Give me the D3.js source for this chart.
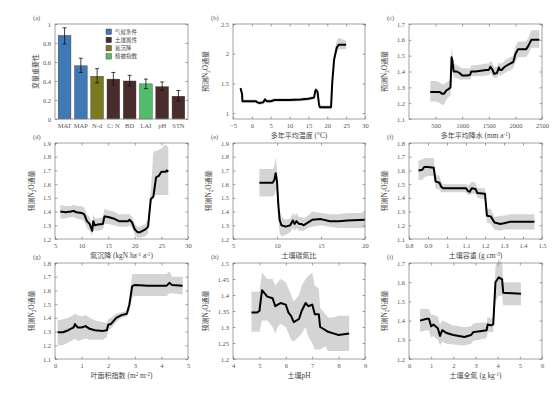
<!DOCTYPE html>
<meta charset=utf-8>
<script src="https://cdn.jsdelivr.net/npm/d3@7"></script>
<style>
body { margin: 0; background: white }
svg text { font-family: "Liberation Serif", serif; fill: #555 }
svg .zh { font-family: "Noto Sans CJK SC", sans-serif; fill: #444 }
svg tspan.lat { font-family: "Liberation Serif", serif }
</style>
<body>
<svg id=fig width=554 height=399></svg>
<script>
// (a) variable importance
const barCats = ["MAT", "MAP", "N-d", "C: N", "BD", "LAI", "pH", "STN"];
const barVals = [0.88, 0.56, 0.45, 0.42, 0.40, 0.37, 0.34, 0.24];
const barLo = [0.79, 0.49, 0.38, 0.36, 0.35, 0.32, 0.30, 0.19];
const barHi = [0.96, 0.64, 0.53, 0.49, 0.46, 0.42, 0.39, 0.30];
const barGroup = ["气候条件", "气候条件", "氮沉降", "土壤属性", "土壤属性", "植被指数", "土壤属性", "土壤属性"];
const groups = ["气候条件", "土壤属性", "氮沉降", "植被指数"];
const groupColors = ["#3f79b6", "#4b2c2d", "#7b791e", "#4fbd6b"];

// (b) mean annual temperature
const bX = [-3, -2.6, -2.5, 0, 1, 1.5, 2, 3, 3.5, 4, 5, 6, 10, 13, 15, 16.5, 16.8, 17, 17.4, 17.8, 18, 19, 20, 21, 21.3, 21.8, 22.5, 23, 25];
const bY = [1.42, 1.32, 1.2, 1.2, 1.2, 1.18, 1.17, 1.18, 1.23, 1.2, 1.2, 1.22, 1.22, 1.23, 1.24, 1.26, 1.37, 1.39, 1.36, 1.15, 1.1, 1.1, 1.1, 1.1, 1.5, 1.9, 2.1, 2.15, 2.15];
const bLo = [1.37, 1.27, 1.17, 1.17, 1.17, 1.15, 1.14, 1.15, 1.2, 1.17, 1.17, 1.19, 1.19, 1.2, 1.21, 1.23, 1.33, 1.35, 1.31, 1.11, 1.07, 1.07, 1.07, 1.07, 1.42, 1.8, 2.02, 2.07, 2.08];
const bHi = [1.46, 1.36, 1.23, 1.23, 1.23, 1.21, 1.2, 1.21, 1.26, 1.23, 1.23, 1.25, 1.25, 1.26, 1.27, 1.29, 1.41, 1.43, 1.4, 1.19, 1.13, 1.13, 1.13, 1.13, 1.58, 2.0, 2.22, 2.27, 2.22];

// (c) mean annual precipitation
const cX = [400, 500, 580, 620, 660, 700, 750, 780, 800, 815, 840, 900, 950, 1000, 1100, 1150, 1170, 1250, 1350, 1450, 1500, 1530, 1570, 1600, 1650, 1690, 1710, 1740, 1800, 1900, 1960, 2000, 2050, 2200, 2240, 2300, 2450];
const cY = [1.27, 1.27, 1.27, 1.26, 1.26, 1.28, 1.29, 1.30, 1.49, 1.47, 1.40, 1.40, 1.39, 1.375, 1.375, 1.38, 1.40, 1.40, 1.405, 1.41, 1.41, 1.43, 1.41, 1.385, 1.39, 1.425, 1.41, 1.41, 1.43, 1.45, 1.46, 1.51, 1.54, 1.54, 1.56, 1.60, 1.60];
const cLo = [1.21, 1.21, 1.2, 1.19, 1.19, 1.22, 1.24, 1.25, 1.42, 1.42, 1.36, 1.36, 1.35, 1.35, 1.35, 1.35, 1.37, 1.37, 1.37, 1.375, 1.375, 1.39, 1.37, 1.36, 1.36, 1.38, 1.37, 1.38, 1.39, 1.41, 1.42, 1.46, 1.49, 1.49, 1.51, 1.55, 1.55];
const cHi = [1.34, 1.34, 1.33, 1.32, 1.32, 1.33, 1.34, 1.35, 1.56, 1.52, 1.45, 1.44, 1.43, 1.42, 1.42, 1.42, 1.44, 1.44, 1.445, 1.45, 1.45, 1.47, 1.45, 1.43, 1.43, 1.46, 1.45, 1.45, 1.47, 1.49, 1.5, 1.56, 1.59, 1.59, 1.61, 1.66, 1.66];

// (d) nitrogen deposition
const dX = [6, 7, 8, 8.5, 9, 10, 10.5, 11, 11.5, 12, 12.2, 12.5, 13, 14, 14.3, 15, 16, 17, 18, 18.7, 19, 19.5, 20, 20.5, 21, 22, 22.5, 23, 23.5, 24, 24.5, 25, 25.8, 26, 26.3];
const dY = [1.40, 1.395, 1.40, 1.405, 1.395, 1.39, 1.38, 1.33, 1.31, 1.26, 1.33, 1.30, 1.305, 1.31, 1.365, 1.36, 1.35, 1.33, 1.33, 1.33, 1.34, 1.32, 1.27, 1.25, 1.25, 1.27, 1.29, 1.49, 1.51, 1.65, 1.66, 1.69, 1.69, 1.70, 1.69];
const dLo = [1.35, 1.35, 1.36, 1.36, 1.35, 1.34, 1.33, 1.28, 1.26, 1.22, 1.28, 1.26, 1.26, 1.27, 1.31, 1.31, 1.3, 1.29, 1.29, 1.29, 1.3, 1.28, 1.23, 1.21, 1.21, 1.22, 1.24, 1.45, 1.52, 1.52, 1.52, 1.52, 1.52, 1.52, 1.52];
const dHi = [1.45, 1.44, 1.44, 1.45, 1.44, 1.44, 1.43, 1.38, 1.36, 1.31, 1.38, 1.35, 1.35, 1.36, 1.42, 1.41, 1.4, 1.38, 1.38, 1.38, 1.38, 1.36, 1.31, 1.29, 1.29, 1.31, 1.34, 1.55, 1.84, 1.84, 1.85, 1.86, 1.89, 1.88, 1.87];

// (e) soil C:N
const eX = [8, 9, 9.5, 9.7, 9.85, 10, 10.15, 10.3, 10.5, 11, 11.5, 11.8, 12, 12.2, 12.5, 12.8, 13, 13.5, 14, 15, 16, 17, 18, 20];
const eY = [1.61, 1.61, 1.61, 1.63, 1.68, 1.62, 1.45, 1.34, 1.30, 1.29, 1.30, 1.335, 1.31, 1.33, 1.31, 1.31, 1.30, 1.32, 1.34, 1.345, 1.33, 1.33, 1.335, 1.34];
const eLo = [1.51, 1.51, 1.51, 1.52, 1.56, 1.52, 1.35, 1.25, 1.22, 1.23, 1.25, 1.28, 1.26, 1.28, 1.26, 1.26, 1.26, 1.28, 1.29, 1.3, 1.29, 1.28, 1.28, 1.28];
const eHi = [1.71, 1.71, 1.71, 1.73, 1.80, 1.72, 1.55, 1.42, 1.36, 1.34, 1.35, 1.39, 1.37, 1.39, 1.36, 1.36, 1.35, 1.37, 1.4, 1.39, 1.38, 1.38, 1.39, 1.39];

// (f) bulk density
const fX = [0.85, 0.87, 0.88, 0.9, 0.93, 0.94, 0.96, 0.97, 0.98, 1.0, 1.05, 1.1, 1.11, 1.12, 1.13, 1.15, 1.16, 1.2, 1.21, 1.23, 1.25, 1.28, 1.3, 1.33, 1.46];
const fY = [1.60, 1.605, 1.625, 1.625, 1.62, 1.52, 1.51, 1.48, 1.47, 1.47, 1.47, 1.47, 1.45, 1.445, 1.47, 1.465, 1.435, 1.43, 1.27, 1.265, 1.22, 1.21, 1.215, 1.225, 1.225];
const fLo = [1.53, 1.53, 1.55, 1.56, 1.56, 1.47, 1.46, 1.44, 1.44, 1.44, 1.44, 1.44, 1.42, 1.42, 1.43, 1.43, 1.4, 1.39, 1.22, 1.21, 1.17, 1.16, 1.17, 1.17, 1.17];
const fHi = [1.67, 1.68, 1.69, 1.69, 1.69, 1.57, 1.56, 1.52, 1.5, 1.5, 1.5, 1.5, 1.49, 1.5, 1.52, 1.51, 1.47, 1.47, 1.32, 1.32, 1.26, 1.27, 1.27, 1.28, 1.28];

// (g) leaf area index
const gX = [0.1, 0.3, 0.5, 0.7, 0.75, 0.85, 1.0, 1.15, 1.3, 1.5, 1.8, 1.95, 2.0, 2.1, 2.3, 2.5, 2.7, 2.8, 2.9, 3.0, 3.5, 4.2, 4.3, 4.4, 4.8];
const gY = [1.295, 1.295, 1.31, 1.33, 1.355, 1.33, 1.33, 1.34, 1.32, 1.31, 1.305, 1.31, 1.35, 1.355, 1.40, 1.42, 1.43, 1.50, 1.63, 1.64, 1.635, 1.635, 1.655, 1.64, 1.635];
const gLo = [1.20, 1.20, 1.22, 1.24, 1.25, 1.23, 1.24, 1.25, 1.24, 1.24, 1.24, 1.26, 1.31, 1.32, 1.37, 1.40, 1.41, 1.45, 1.55, 1.56, 1.56, 1.56, 1.58, 1.58, 1.57];
const gHi = [1.38, 1.39, 1.40, 1.42, 1.43, 1.42, 1.41, 1.42, 1.40, 1.38, 1.37, 1.36, 1.39, 1.4, 1.43, 1.44, 1.45, 1.56, 1.72, 1.72, 1.72, 1.72, 1.74, 1.7, 1.7];

// (h) soil pH
const hX = [4.7, 4.9, 5.0, 5.1, 5.3, 5.5, 5.6, 5.7, 5.8, 6.0, 6.1, 6.2, 6.3, 6.5, 6.6, 6.75, 6.85, 7.0, 7.1, 7.25, 7.3, 7.5, 7.6, 7.8, 8.0, 8.4];
const hY = [1.345, 1.345, 1.35, 1.415, 1.395, 1.39, 1.365, 1.37, 1.375, 1.37, 1.345, 1.335, 1.315, 1.325, 1.35, 1.375, 1.365, 1.37, 1.34, 1.34, 1.30, 1.29, 1.285, 1.28, 1.275, 1.28];
const hLo = [1.285, 1.285, 1.285, 1.32, 1.32, 1.3, 1.28, 1.3, 1.31, 1.3, 1.28, 1.26, 1.255, 1.27, 1.28, 1.3, 1.27, 1.25, 1.23, 1.23, 1.23, 1.24, 1.225, 1.225, 1.225, 1.225];
const hHi = [1.41, 1.41, 1.41, 1.47, 1.45, 1.45, 1.43, 1.44, 1.45, 1.44, 1.42, 1.40, 1.38, 1.40, 1.43, 1.45, 1.46, 1.47, 1.43, 1.42, 1.36, 1.34, 1.33, 1.33, 1.335, 1.335];

// (i) soil total nitrogen
const iX = [0.5, 0.8, 0.9, 1.0, 1.1, 1.3, 1.4, 1.5, 1.7, 2.0, 2.5, 2.8, 2.9, 3.2, 3.5, 3.55, 3.7, 3.8, 3.9, 4.05, 4.2, 4.25, 5.05];
const iY = [1.40, 1.41, 1.41, 1.37, 1.38, 1.36, 1.32, 1.35, 1.335, 1.325, 1.315, 1.325, 1.34, 1.345, 1.35, 1.38, 1.375, 1.38, 1.60, 1.625, 1.615, 1.545, 1.54];
const iLo = [1.34, 1.35, 1.35, 1.31, 1.32, 1.3, 1.27, 1.29, 1.28, 1.275, 1.27, 1.28, 1.295, 1.3, 1.31, 1.34, 1.34, 1.34, 1.5, 1.53, 1.53, 1.48, 1.48];
const iHi = [1.46, 1.46, 1.46, 1.43, 1.43, 1.42, 1.38, 1.4, 1.39, 1.375, 1.365, 1.37, 1.385, 1.39, 1.39, 1.42, 1.41, 1.42, 1.68, 1.72, 1.7, 1.6, 1.6];

// layout
const colL = [55, 233, 409], colR = [188, 365, 542];
const rowT = [24, 143, 263], rowB = [119, 239, 359];

const svg = d3.select("#fig");
const fs = 6.5;

// text with ^{..} and _{..} parts, latin runs in serif
function rich(t, str) {
	const parts = str.split(/([\^_]\{[^}]*\})/);
	for (const p of parts) {
		if (!p) continue;
		if (p[0] === "^" || p[0] === "_") {
			t.append("tspan").attr("class", "lat").attr("baseline-shift", p[0] === "^" ? 2.2 : -1.5)
				.attr("font-size", "0.72em").text(p.slice(2, -1));
		} else {
			for (const q of p.split(/([\u4e00-\u9fff]+)/)) {
				if (!q) continue;
				const s = t.append("tspan").text(q);
				if (!/[\u4e00-\u9fff]/.test(q)) s.attr("class", "lat").attr("font-size", "1.05em");
			}
		}
	}
	return t;
}

function frame(g, x, y, xt, yt, xf, yf, noXTicks) {
	const [l, r] = x.range(), [b, t] = y.range();
	g.append("rect").attr("x", l).attr("y", t).attr("width", r - l).attr("height", b - t)
		.attr("fill", "none").attr("stroke", "#8a8a8a").attr("stroke-width", 0.8);
	const style = a => a.call(s => s.select(".domain").remove())
		.call(s => s.selectAll("line").attr("stroke", "#666").attr("stroke-width", 0.6))
		.call(s => s.selectAll("text").attr("font-size", fs).attr("fill", "#555"));
	const ts = noXTicks ? 0 : -2.5;
	g.append("g").attr("transform", `translate(0,${b})`)
		.call(d3.axisBottom(x).tickValues(xt).tickFormat(xf).tickSize(ts).tickPadding(4)).call(style);
	g.append("g").attr("transform", `translate(0,${t})`)
		.call(d3.axisTop(x).tickValues(xt).tickFormat("").tickSize(ts)).call(style);
	g.append("g").attr("transform", `translate(${l},0)`)
		.call(d3.axisLeft(y).tickValues(yt).tickFormat(yf).tickSize(-2.5).tickPadding(4)).call(style);
	g.append("g").attr("transform", `translate(${r},0)`)
		.call(d3.axisRight(y).tickValues(yt).tickFormat("").tickSize(-2.5)).call(style);
}

function labels(g, l, r, t, b, tag, yoff, ylab, xlab) {
	g.append("text").attr("x", l - 22).attr("y", t - 4).attr("font-size", 6.5).attr("fill", "#333").text(tag);
	rich(g.append("text").attr("class", "zh")
		.attr("transform", `translate(${l - yoff},${(t + b) / 2}) rotate(-90)`)
		.attr("text-anchor", "middle").attr("font-size", 7), ylab);
	if (xlab) rich(g.append("text").attr("class", "zh").attr("x", (l + r) / 2).attr("y", b + 18.5)
		.attr("text-anchor", "middle").attr("font-size", 7), xlab);
}

// panel (a)
{
	const g = svg.append("g");
	const l = colL[0], r = colR[0], t = rowT[0], b = rowB[0];
	const x = d3.scaleBand().domain(barCats).range([l, r]).paddingInner(0.22).paddingOuter(0.2);
	const y = d3.scaleLinear().domain([0, 1]).range([b, t]);
	const col = d3.scaleOrdinal().domain(groups).range(groupColors);
	g.append("g").selectAll("rect").data(barCats).join("rect")
		.attr("x", d => x(d)).attr("width", x.bandwidth())
		.attr("y", (d, i) => y(barVals[i])).attr("height", (d, i) => y(0) - y(barVals[i]))
		.attr("fill", (d, i) => col(barGroup[i])).attr("stroke", "#333").attr("stroke-width", 0.4);
	const eb = g.append("g").attr("stroke", "#111").attr("stroke-width", 0.8);
	eb.selectAll(".v").data(barCats).join("line")
		.attr("x1", d => x(d) + x.bandwidth() / 2).attr("x2", d => x(d) + x.bandwidth() / 2)
		.attr("y1", (d, i) => y(barLo[i])).attr("y2", (d, i) => y(barHi[i]));
	for (const arr of [barLo, barHi]) {
		eb.append("g").selectAll("line").data(barCats).join("line")
			.attr("x1", d => x(d) + x.bandwidth() / 2 - 2).attr("x2", d => x(d) + x.bandwidth() / 2 + 2)
			.attr("y1", (d, i) => y(arr[i])).attr("y2", (d, i) => y(arr[i]));
	}
	frame(g, x, y, barCats, d3.range(0, 1.01, 0.2), d => d, d => d3.format("~g")(+d.toFixed(1)), true);
	labels(g, l, r, t, b, "(a)", 17, "变量重要性", null);
	const lg = g.append("g").selectAll("g").data(groups).join("g")
		.attr("transform", (d, i) => `translate(106,${29 + i * 8.2})`);
	lg.append("rect").attr("width", 5.5).attr("height", 5.5)
		.attr("fill", d => col(d)).attr("stroke", "#333").attr("stroke-width", 0.4);
	lg.append("text").attr("class", "zh").attr("x", 9).attr("y", 4.8).attr("font-size", 5.5).text(d => d);
}

const ylab = "预测N_{2}O通量";
const panels = [
	{tag: "(b)", c: 1, r: 0, X: bX, Y: bY, lo: bLo, hi: bHi, xd: [-5, 30], xt: d3.range(-5, 31, 5), yd: [0.9, 2.5], yt: [1, 1.5, 2, 2.5], yoff: 25, xl: "多年平均温度 (°C)"},
	{tag: "(c)", c: 2, r: 0, X: cX, Y: cY, lo: cLo, hi: cHi, xd: [0, 2500], xt: [500, 1000, 1500, 2000, 2500], yd: [1.1, 1.7], yt: d3.range(1.1, 1.71, 0.1), yoff: 22, xl: "多年平均降水 (mm a^{-1})"},
	{tag: "(d)", c: 0, r: 1, X: dX, Y: dY, lo: dLo, hi: dHi, xd: [5, 30], xt: d3.range(5, 31, 5), yd: [1.2, 1.9], yt: d3.range(1.2, 1.91, 0.1), yoff: 21, xl: "氮沉降 (kgN ha^{-1} a^{-1})"},
	{tag: "(e)", c: 1, r: 1, X: eX, Y: eY, lo: eLo, hi: eHi, xd: [5, 20], xt: [5, 10, 15, 20], yd: [1.2, 1.9], yt: d3.range(1.2, 1.91, 0.1), yoff: 22, xl: "土壤碳氮比"},
	{tag: "(f)", c: 2, r: 1, X: fX, Y: fY, lo: fLo, hi: fHi, xd: [0.8, 1.5], xt: d3.range(0.8, 1.51, 0.1), yd: [1.1, 1.8], yt: d3.range(1.1, 1.81, 0.1), yoff: 22, xl: "土壤容重 (g cm^{-3})"},
	{tag: "(g)", c: 0, r: 2, X: gX, Y: gY, lo: gLo, hi: gHi, xd: [0, 5], xt: d3.range(0, 5.1, 1), yd: [1.1, 1.8], yt: d3.range(1.1, 1.81, 0.1), yoff: 21, xl: "叶面积指数 (m^{2} m^{-2})"},
	{tag: "(h)", c: 1, r: 2, X: hX, Y: hY, lo: hLo, hi: hHi, xd: [4, 9], xt: d3.range(4, 9.1, 1), yd: [1.2, 1.5], yt: d3.range(1.2, 1.51, 0.05), yoff: 25, xl: "土壤pH"},
	{tag: "(i)", c: 2, r: 2, X: iX, Y: iY, lo: iLo, hi: iHi, xd: [0, 6], xt: d3.range(0, 6.1, 1), yd: [1.2, 1.7], yt: d3.range(1.2, 1.71, 0.1), yoff: 22, xl: "土壤全氮 (g kg^{-1})"}
];

const fmt = d => d3.format("~g")(+d.toFixed(2));
for (const p of panels) {
	const g = svg.append("g");
	const l = colL[p.c], r = colR[p.c], t = rowT[p.r], b = rowB[p.r];
	const x = d3.scaleLinear().domain(p.xd).range([l, r]);
	const y = d3.scaleLinear().domain(p.yd).range([b, t]);
	const idx = d3.range(p.X.length);
	g.append("path").datum(idx).attr("fill", "#d4d4d4")
		.attr("d", d3.area().x(i => x(p.X[i])).y0(i => y(p.lo[i])).y1(i => y(p.hi[i])));
	g.append("path").datum(idx).attr("fill", "none").attr("stroke", "#000").attr("stroke-width", 2)
		.attr("stroke-linejoin", "round")
		.attr("d", d3.line().x(i => x(p.X[i])).y(i => y(p.Y[i])));
	frame(g, x, y, p.xt, p.yt, fmt, fmt);
	labels(g, l, r, t, b, p.tag, p.yoff, ylab, p.xl);
}
</script>
</body>
